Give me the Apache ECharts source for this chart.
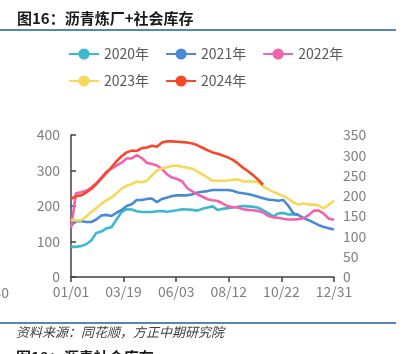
<!DOCTYPE html>
<html><head><meta charset="utf-8">
<script src="https://cdn.jsdelivr.net/npm/echarts@6/dist/echarts.min.js"></script>
<style>html,body{margin:0;padding:0;background:#fff;}#c{width:408px;height:354px;}</style>
</head><body><div id="c"></div>
<script>
var tickLabels = ["01/01","03/19","06/03","08/12","10/22","12/31"];
var seriesNames = ["2020年","2021年","2022年","2023年","2024年"];
var y2020 = [85,85,87,92,103,124,128,137,140,162,183,191,190,185,183,183,183,185,186,184,186,188,191,190,189,187,192,196,199,189,192,194,196,198,200,199,198,195,188,180,171,179,180,176,177,176];
var y2021 = [145,157,158,155,155,162,173,175,172,181,189,200,205,217,217,220,221,211,220,224,228,230,230,230,233,238,240,242,245,245,245,245,243,238,236,234,230,226,222,218,217,215,217,200,179,174,166,160,153,146,141,137,134];
var y2022 = [137,236,239,243,252,264,280,296,305,314,322,334,334,343,335,322,318,314,304,289,280,276,269,250,241,233,226,219,216,214,207,199,197,196,191,189,188,186,182,172,168,167,164,162,162,163,166,174,187,187,178,164,161];
var y2023 = [162,159,160,170,183,194,206,216,224,235,249,257,262,269,267,271,286,300,306,309,313,314,310,308,305,297,289,280,271,271,271,272,274,275,269,269,269,267,255,247,240,234,228,220,210,204,207,204,204,201,193,204,215];
var y2024 = [220,228,230,238,248,262,277,293,309,326,340,351,356,355,363,365,370,367,379,382,382,381,380,379,376,371,364,357,351,347,342,337,330,320,308,298,287,274,260];
var colors = ["#3CB8CF","#4A8AD5","#F163AC","#F4D95A","#F3482C"];
var allData = [y2020,y2021,y2022,y2023,y2024];
var nWeeks = 52;
var step = nWeeks / (tickLabels.length - 1);

var chart = echarts.init(document.getElementById('c'));
var font = "'Noto Sans CJK SC', 'Noto Sans', sans-serif";
var series = allData.map(function(arr, k){
  return {
    name: seriesNames[k], type: 'line', data: arr.map(function(v,i){return [i,v];}),
    showSymbol: false, symbol: 'circle', symbolSize: 14,
    lineStyle: {width: 2.6, color: colors[k]}, itemStyle: {color: colors[k]},
    z: 2 + k
  };
});
var legendBase = {
  left: 63, itemWidth: 30, itemHeight: 14, itemGap: 16,
  textStyle: {fontSize: 14, color: '#595959', fontFamily: font}
};
chart.setOption({
  animation: false,
  backgroundColor: '#fff',
  color: colors,
  graphic: [
    {type:'text', left: 17, top: 11, style:{text:'图16：沥青炼厂+社会库存', font:'bold 15px ' + font, fill:'#1a1a1a'}},
    {type:'line', shape:{x1:0,y1:30,x2:396,y2:30}, style:{stroke:'#1F5E98', lineWidth:1.5}},
    {type:'line', shape:{x1:0,y1:323,x2:396,y2:323}, style:{stroke:'#1F5E98', lineWidth:1.5}},
    {type:'text', left: 16, top: 326, style:{text:'资料来源：同花顺，方正中期研究院', font:'italic 13px ' + font, fill:'#404040'}},
    {type:'text', left: 16, top: 350, style:{text:'图18：沥青社会库存', font:'bold 15px ' + font, fill:'#1a1a1a'}},
    {type:'text', x: 9, y: 286, style:{text:'30', align:'right', font:'14px ' + font, fill:'#7F7F7F'}}
  ],
  legend: [
    Object.assign({top: 42, data: seriesNames.slice(0,3)}, legendBase),
    Object.assign({top: 69, data: seriesNames.slice(3)}, legendBase)
  ],
  grid: {left: 71, right: 74, top: 135, bottom: 77},
  xAxis: {
    type: 'value', min: 0, max: nWeeks, interval: step,
    splitLine: {show:false},
    axisLine: {lineStyle:{color:'#404040', width:1.5}},
    axisTick: {show:true, length:5, lineStyle:{color:'#404040', width:1.5}},
    axisLabel: {fontSize:14, color:'#7F7F7F', fontFamily: font, margin: 8,
      formatter: function(v){ return tickLabels[Math.round(v/step)] || ''; }}
  },
  yAxis: [
    {type:'value', min:0, max:400, interval:100, splitLine:{show:false},
     axisLine:{show:true, lineStyle:{color:'#404040', width:1.5}},
     axisTick:{show:true, inside:true, length:5, lineStyle:{color:'#404040', width:1.5}},
     axisLabel:{fontSize:14, color:'#7F7F7F', fontFamily: font, margin: 11}},
    {type:'value', min:0, max:350, interval:50, position:'right', splitLine:{show:false},
     axisLine:{show:false}, axisTick:{show:false},
     axisLabel:{fontSize:14, color:'#7F7F7F', fontFamily: font, margin: 9}}
  ],
  series: series
});
</script></body></html>
